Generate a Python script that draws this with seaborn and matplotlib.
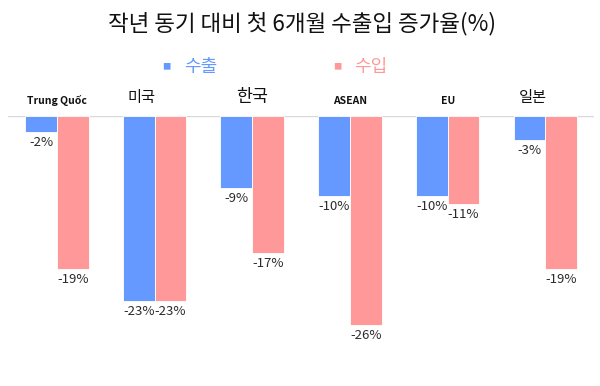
import pandas as pd
import matplotlib.pyplot as plt
import seaborn as sns

# data
regions = ['Trung Quốc', '미국', '한국', 'ASEAN', 'EU', '일본']
exports = [-2, -23, -9, -10, -10, -3]
imports = [-19, -23, -17, -26, -11, -19]
series = ['수출', '수입']
colors = ['#6699FF', '#FF9999']

df = pd.DataFrame({
    'region': regions * 2,
    'kind': [series[0]] * len(regions) + [series[1]] * len(regions),
    'value': exports + imports,
})

sns.set_theme(style='white')
plt.rcParams['font.family'] = ['Noto Sans CJK KR', 'DejaVu Sans']

fig = plt.figure(figsize=(6, 3.86), dpi=100)
ax = fig.add_axes([0.0133, 0.075, 0.977, 0.625])

sns.barplot(data=df, x='region', y='value', hue='kind', order=regions,
            hue_order=series, palette=colors, width=0.65, ax=ax,
            edgecolor='white', linewidth=0.6, saturation=1)

ax.set_ylim(-30, 0)
ax.set_xlim(-0.5, len(regions) - 0.5)
for s in ['top', 'right', 'bottom', 'left']:
    ax.spines[s].set_visible(False)
ax.axhline(0, color='#d9d9d9', lw=1, zorder=0)
ax.set_xlabel('')
ax.set_ylabel('')
ax.set_yticks([])
ax.set_xticks([])

# value labels under each bar
for cont in ax.containers:
    ax.bar_label(cont, labels=[f'{v:.0f}%' for v in cont.datavalues],
                 padding=3, fontsize=9.5, color='#2b2b2b')

# category names above the zero line
label_style = {
    'Trung Quốc': dict(fontsize=7.5, fontweight='bold'),
    '미국': dict(fontsize=11),
    '한국': dict(fontsize=12.5),
    'ASEAN': dict(fontsize=7.5, fontweight='bold'),
    'EU': dict(fontsize=7.5, fontweight='bold'),
    '일본': dict(fontsize=11),
}
label_shift = {'미국': -0.13, '일본': -0.13}
for i, r in enumerate(regions):
    ax.text(i + label_shift.get(r, 0), 1.2, r, ha='center', va='bottom',
            color='#111111', **label_style[r])

# legend
ax.get_legend().remove()
fig.text(0.277, 0.826, '■', fontsize=6, color=colors[0], ha='center', va='center')
fig.text(0.335, 0.826, series[0], fontsize=13, color=colors[0], ha='center', va='center')
fig.text(0.563, 0.826, '■', fontsize=6, color=colors[1], ha='center', va='center')
fig.text(0.618, 0.826, series[1], fontsize=13, color=colors[1], ha='center', va='center')

fig.text(0.503, 0.94, '작년 동기 대비 첫 6개월 수출입 증가율(%)', fontsize=16.2,
         ha='center', va='center', color='#111111')

fig.savefig('out.png', dpi=100)
